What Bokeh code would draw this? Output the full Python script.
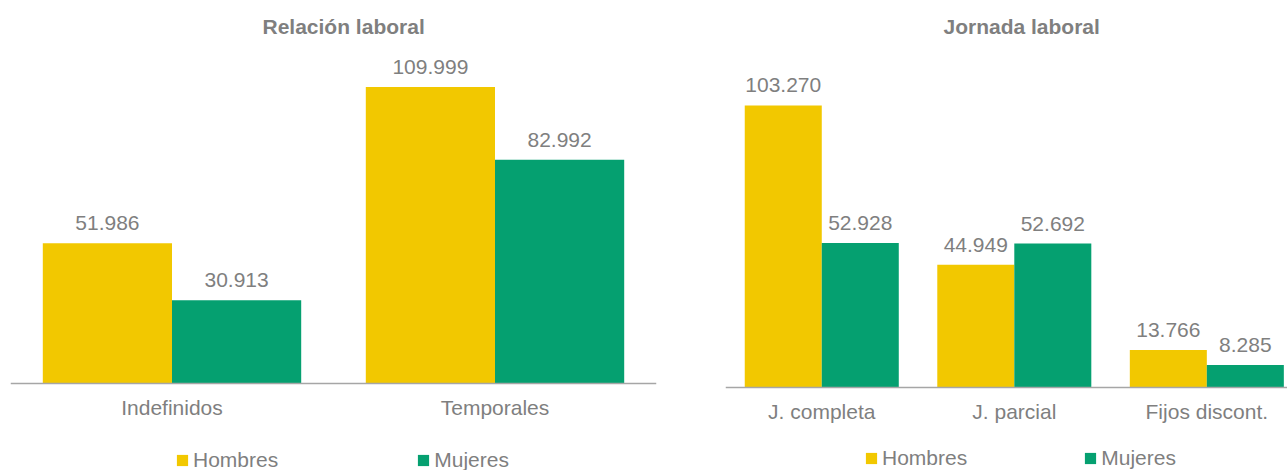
from bokeh.plotting import figure
from bokeh.models import Range1d, FixedTicker, Legend, LegendItem, ColumnDataSource
from bokeh.layouts import row
from bokeh.embed import file_html
from bokeh.resources import INLINE
from bokeh.core.properties import value

# ---- data ----
series = ["Hombres", "Mujeres"]
titles = ["Relación laboral", "Jornada laboral"]
cats_rel = ["Indefinidos", "Temporales"]
hombres_rel = [51986, 109999]
mujeres_rel = [30913, 82992]
cats_jor = ["J. completa", "J. parcial", "Fijos discont."]
hombres_jor = [103270, 44949, 13766]
mujeres_jor = [52928, 52692, 8285]

YELLOW = "#F2C800"
GREEN = "#05A070"
GRAY = "#7F7F7F"
AXIS = "#A6A6A6"
FONT = "Liberation Sans"


def fmt(v):
    return f"{v:,}".replace(",", ".")


def make(title, cats, h, m, width, x_end, y_start, y_end, mbl, mbr, leg_xy, leg_spacing,
         title_offset):
    p = figure(width=width, height=470, x_range=Range1d(0, x_end),
               y_range=Range1d(y_start, y_end),
               output_backend="svg", toolbar_location=None,
               min_border_left=mbl, min_border_right=mbr, min_border_top=48,
               min_border_bottom=0)
    p.title.text = title
    p.title.align = "left"
    p.title.text_font = FONT
    p.title.text_font_size = "21px"
    p.title.text_font_style = "bold"
    p.title.text_color = GRAY
    p.title.offset = title_offset
    p.title.standoff = 21

    n = len(cats)
    centers = [i + 0.5 for i in range(n)]
    bw = 0.4
    xh = [c - bw / 2 for c in centers]
    xm = [c + bw / 2 for c in centers]
    src_h = ColumnDataSource(dict(x=xh, top=h, lab=[fmt(v) for v in h]))
    src_m = ColumnDataSource(dict(x=xm, top=m, lab=[fmt(v) for v in m]))
    rh = p.vbar(x="x", top="top", width=bw, bottom=0, source=src_h,
                fill_color=YELLOW, line_color=None)
    rm = p.vbar(x="x", top="top", width=bw, bottom=0, source=src_m,
                fill_color=GREEN, line_color=None)
    for src in (src_h, src_m):
        p.text(x="x", y="top", text="lab", source=src, text_align="center",
               text_baseline="alphabetic", y_offset=-20, text_color=GRAY,
               text_font=value(FONT), text_font_size="21px")

    p.yaxis.visible = False
    p.grid.visible = False
    p.outline_line_color = None
    ax = p.xaxis[0]
    ax.fixed_location = 0
    ax.ticker = FixedTicker(ticks=centers)
    ax.major_label_overrides = {c: cat for c, cat in zip(centers, cats)}
    ax.major_tick_line_color = None
    ax.minor_tick_line_color = None
    ax.major_tick_out = 0
    ax.major_tick_in = 0
    ax.axis_line_color = AXIS
    ax.axis_line_width = 1.5
    ax.major_label_text_color = GRAY
    ax.major_label_text_font = FONT
    ax.major_label_text_font_size = "21px"
    ax.major_label_standoff = 12

    legend = Legend(items=[LegendItem(label=series[0], renderers=[rh]),
                           LegendItem(label=series[1], renderers=[rm])],
                    location=leg_xy, orientation="horizontal", spacing=leg_spacing,
                    glyph_width=14, glyph_height=14, label_standoff=4,
                    label_text_font=FONT, label_text_font_size="21px",
                    label_text_color=GRAY, label_height=21, padding=0, margin=0,
                    border_line_alpha=0, background_fill_alpha=0)
    p.add_layout(legend)
    return p


# left: baseline at 383 px, 0.002696 px per unit; right: baseline at 387 px, 0.002731 px per unit
p1 = make(titles[0], cats_rel, hombres_rel, mujeres_rel, width=708, x_end=2.0,
          y_start=-32270, y_end=124260, mbl=10, mbr=52, leg_xy=(165, -2), leg_spacing=138,
          title_offset=252)
p2 = make(titles[1], cats_jor, hombres_jor, mujeres_jor, width=579, x_end=2.919,
          y_start=-30390, y_end=124130, mbl=17, mbr=0, leg_xy=(139, 0), leg_spacing=116,
          title_offset=218)

layout = row(p1, p2)
open("out.html", "w").write(file_html(layout, INLINE))
